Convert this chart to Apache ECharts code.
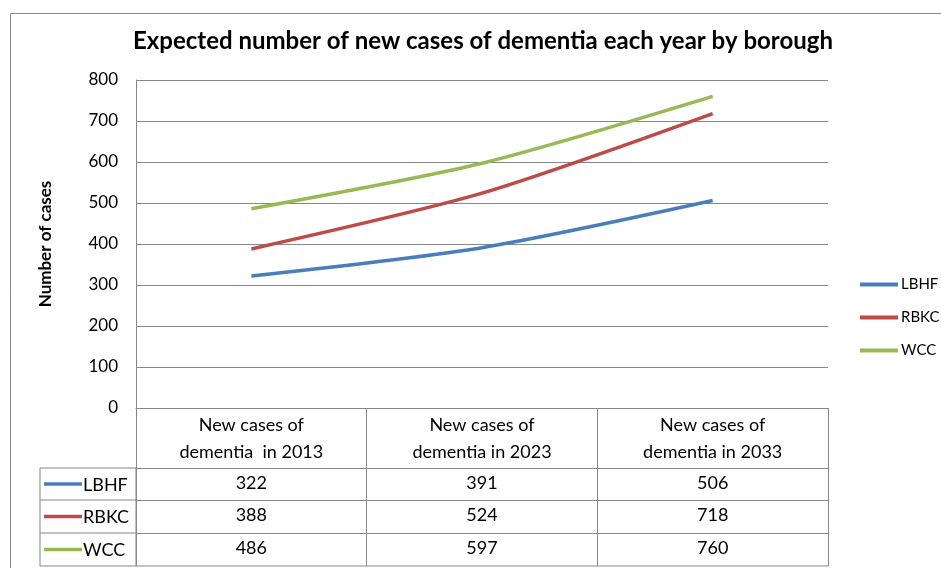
<!DOCTYPE html>
<html>
<head>
<meta charset="utf-8">
<script src="https://cdn.jsdelivr.net/npm/echarts@6/dist/echarts.min.js"></script>
<style>html,body{margin:0;padding:0;background:#fff}#c{width:941px;height:568px}</style>
</head>
<body>
<div id="c"></div>
<script>
const titleText = 'Expected number of new cases of dementia each year by borough';
const yAxisName = 'Number of cases';
const categories = ['New cases of\ndementia  in 2013', 'New cases of\ndementia in 2023', 'New cases of\ndementia in 2033'];
const seriesNames = ['LBHF', 'RBKC', 'WCC'];
const LBHF = [322, 391, 506];
const RBKC = [388, 524, 718];
const WCC = [486, 597, 760];
const yTicks = [0, 100, 200, 300, 400, 500, 600, 700, 800];

const seriesData = [LBHF, RBKC, WCC];
const colors = ['#4A7EBB', '#BE4B48', '#98B954'];
const FONT = 'Lato';
const GRAY = '#878787';

const chart = echarts.init(document.getElementById('c'));

const rowOffsets = [60, 92, 125];
const valueAxes = seriesData.map((d, i) => ({
  type: 'category',
  position: 'bottom',
  gridIndex: 0,
  offset: rowOffsets[i],
  data: d.map(String),
  axisLine: {show: true, lineStyle: {color: GRAY, width: 1}},
  axisTick: {show: false},
  splitLine: {show: false},
  axisLabel: {interval: 0, margin: 6, fontFamily: FONT, fontSize: 18, color: '#000'}
}));

// left legend cells of the data table
const rowTops = [468, 500, 533, 566];
const tableGraphics = [
  {type: 'rect', shape: {x: 40, y: 468, width: 96, height: 98}, style: {fill: 'none', stroke: GRAY, lineWidth: 1}},
  {type: 'line', shape: {x1: 40, y1: 500, x2: 136, y2: 500}, style: {stroke: GRAY, lineWidth: 1}},
  {type: 'line', shape: {x1: 40, y1: 533, x2: 136, y2: 533}, style: {stroke: GRAY, lineWidth: 1}},
  {type: 'line', shape: {x1: 136, y1: 566, x2: 828, y2: 566}, style: {stroke: GRAY, lineWidth: 1}}
];
seriesNames.forEach((n, i) => {
  const cy = (rowTops[i] + rowTops[i + 1]) / 2;
  tableGraphics.push({type: 'line', shape: {x1: 44, y1: cy, x2: 82, y2: cy}, style: {stroke: colors[i], lineWidth: 3.5}});
  tableGraphics.push({type: 'text', x: 83, y: cy + 1, style: {text: n, fontFamily: FONT, fontSize: 18, fill: '#000', verticalAlign: 'middle', align: 'left'}});
});

chart.setOption({
  backgroundColor: '#fff',
  animation: false,
  color: colors,
  title: {
    text: titleText,
    left: 133,
    top: 29,
    padding: 0,
    textStyle: {fontFamily: FONT, fontWeight: 'bold', fontSize: 24, color: '#000'}
  },
  legend: {
    orient: 'vertical',
    left: 855,
    top: 272,
    icon: 'rect',
    itemWidth: 38,
    itemHeight: 4,
    itemGap: 18,
    data: seriesNames,
    textStyle: {fontFamily: FONT, fontSize: 15, color: '#000', padding: [0, 0, 0, -2]}
  },
  grid: {left: 136, right: 113, top: 80, bottom: 160, containLabel: false},
  xAxis: [{
    type: 'category',
    data: categories,
    boundaryGap: true,
    axisLine: {show: true, lineStyle: {color: GRAY, width: 1}},
    axisTick: {show: true, interval: 0, length: 158, lineStyle: {color: GRAY, width: 1}},
    axisLabel: {interval: 0, margin: 4, fontFamily: FONT, fontSize: 18, lineHeight: 27, color: '#000'}
  }].concat(valueAxes),
  yAxis: {
    type: 'value',
    min: yTicks[0],
    max: yTicks[yTicks.length - 1],
    interval: 100,
    name: yAxisName,
    nameLocation: 'middle',
    nameGap: 82,
    nameTextStyle: {fontFamily: FONT, fontWeight: 'bold', fontSize: 17, color: '#000'},
    axisLine: {show: true, lineStyle: {color: GRAY, width: 1}},
    axisTick: {show: false},
    splitLine: {show: true, lineStyle: {color: GRAY, width: 1}},
    axisLabel: {margin: 18, fontFamily: FONT, fontSize: 17, color: '#000'}
  },
  series: seriesNames.map((n, i) => ({
    name: n,
    type: 'line',
    xAxisIndex: 0,
    data: seriesData[i],
    smooth: 0.25,
    symbol: 'none',
    lineStyle: {width: 3.5, color: colors[i]},
    itemStyle: {color: colors[i]}
  })),
  graphic: [
    {type: 'rect', shape: {x: 10.5, y: 13.5, width: 1000, height: 600}, style: {fill: 'none', stroke: GRAY, lineWidth: 1}, z: -1}
  ].concat(tableGraphics)
});
</script>
</body>
</html>
